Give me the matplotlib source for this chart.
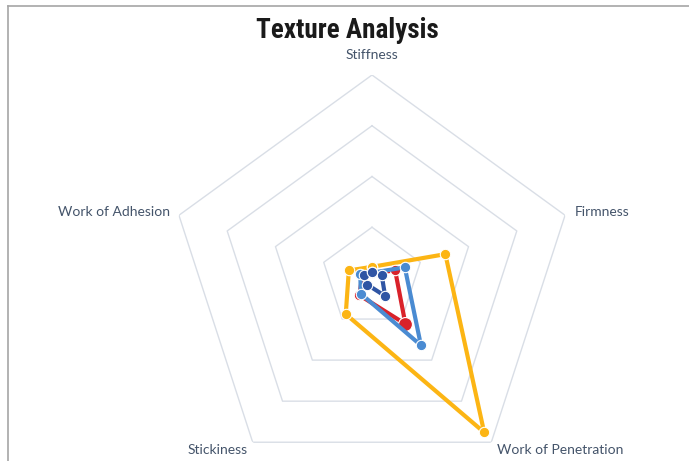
import numpy as np
import matplotlib
matplotlib.use("Agg")
import matplotlib.pyplot as plt
from matplotlib.lines import Line2D
from matplotlib import font_manager

# axes, clockwise from the top
categories = ["Stiffness", "Firmness", "Work of Penetration", "Stickiness", "Work of Adhesion"]

# values (0-100 scale, rings every 25)
yellow = [5.5, 38, 94, 22, 12]
light_blue = [2.6, 17, 41, 9.5, 6]
red = [2.5, 12, 28, 10.5, 5]
dark_blue = [3, 5, 11, 4, 4]
ring_levels = [25, 50, 75, 100]

W, H = 689, 461
fig = plt.figure(figsize=(W / 100, H / 100), dpi=100)
fig.patch.set_facecolor("white")

# polar axes centred at (372, 278) px, radius 203 px
cx, cy, R = 372, 278, 203
ax = fig.add_axes([(cx - R) / W, (H - cy - R) / H, 2 * R / W, 2 * R / H], projection="polar")
ax.set_theta_offset(np.pi / 2)
ax.set_theta_direction(-1)
ax.set_ylim(0, 100)
ax.grid(False)
ax.spines["polar"].set_visible(False)
ax.set_xticks([])
ax.set_yticks([])
ax.patch.set_alpha(0)

n = len(categories)
theta = np.linspace(0, 2 * np.pi, n, endpoint=False)
theta_c = np.append(theta, theta[0])

# pentagon grid
for lev in ring_levels:
    ax.plot(theta_c, [lev] * (n + 1), color="#D9DEE6", lw=1.0, zorder=1)

def closed(v):
    return np.append(v, v[0])

series = [
    (yellow, "#FCB514"),
    (red, "#D9222A"),
    (light_blue, "#4A8BD2"),
    (dark_blue, "#2F55A4"),
]
for i, (vals, col) in enumerate(series):
    ax.plot(theta_c, closed(vals), color=col, lw=3.0, marker="o", ms=7.5,
            mfc=col, mec="white", mew=0.8, zorder=3 + i, clip_on=False)

# the larger red marker on Work of Penetration
ax.plot(theta[2], red[2], "o", color="#D9222A", ms=10, mec="white", mew=0.8, zorder=4)

# axis labels
label_kw = dict(fontsize=10, color="#44546A", family=["Lato", "DejaVu Sans"],
                textcoords="offset points", annotation_clip=False)
offsets = [((0, 14.4), "center", "center"),
           ((7.2, 2), "left", "center"),
           ((4.3, -5.8), "left", "center"),
           ((-3.6, -5.8), "right", "center"),
           ((-6.5, 2), "right", "center")]
for t, lab, (off, ha, va) in zip(theta, categories, offsets):
    ax.annotate(lab, xy=(t, 100), xytext=off, ha=ha, va=va, **label_kw)

# a narrow bold face for the title, if one is around
installed = {f.name for f in font_manager.fontManager.ttflist}
title_font = next((f for f in ["Liberation Sans Narrow", "DejaVu Sans Condensed",
                               "Roboto Condensed", "Roboto"] if f in installed), "DejaVu Sans")
title_size = 19.5 if "Narrow" in title_font or "Condensed" in title_font else 15.5
fig.text(347 / W, 1 - 38 / H, "Texture Analysis", ha="center", va="baseline",
         fontsize=title_size, fontweight="bold", color="#1A1A1A", family=title_font)

# frame lines at the top and left of the picture
fig.add_artist(Line2D([8 / W, 1], [1 - 6 / H, 1 - 6 / H], color="#A6A6A6", lw=1.2,
                      transform=fig.transFigure))
fig.add_artist(Line2D([8 / W, 8 / W], [0, 1 - 6 / H], color="#A6A6A6", lw=1.2,
                      transform=fig.transFigure))

fig.savefig("out.png", dpi=100)
